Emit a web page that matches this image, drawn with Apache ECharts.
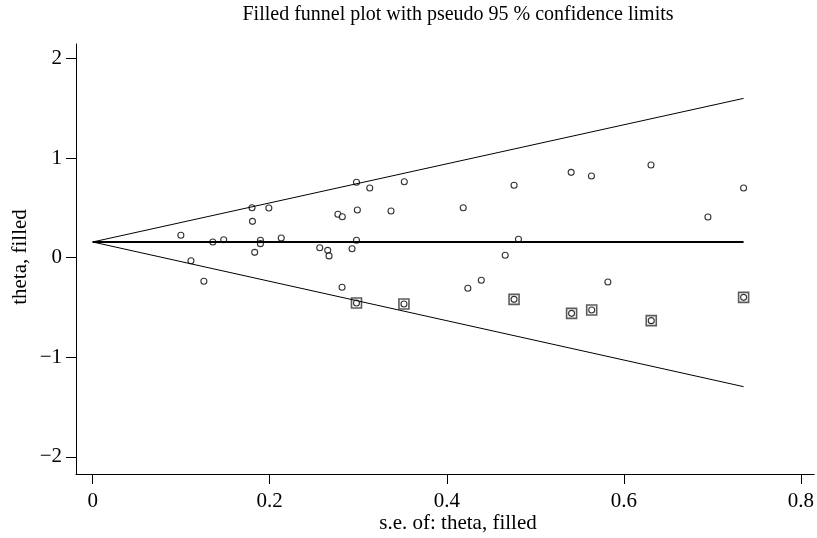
<!DOCTYPE html>
<html>
<head>
<meta charset="utf-8">
<script src="https://cdn.jsdelivr.net/npm/echarts@6/dist/echarts.min.js"></script>
<style>
html,body{margin:0;padding:0;background:#fff;}
#chart{width:817px;height:538px;}
</style>
</head>
<body>
<div id="chart"></div>
<script>
// Observed studies (s.e., theta)
var seObs = [0.0996, 0.111, 0.1256, 0.1357, 0.148, 0.180, 0.1805, 0.183, 0.1895, 0.1895,
  0.199, 0.213, 0.2565, 0.2655, 0.267, 0.277, 0.282, 0.2817, 0.293, 0.298,
  0.299, 0.298, 0.313, 0.337, 0.352, 0.4186, 0.4238, 0.439, 0.466, 0.476,
  0.481, 0.5405, 0.5634, 0.582, 0.6307, 0.695, 0.7353];
var thetaObs = [0.225, -0.030, -0.237, 0.158, 0.181, 0.502, 0.365, 0.054, 0.175, 0.141,
  0.499, 0.198, 0.100, 0.074, 0.018, 0.436, 0.412, -0.297, 0.090, 0.757,
  0.479, 0.175, 0.700, 0.469, 0.763, 0.502, -0.307, -0.227, 0.024, 0.727,
  0.185, 0.857, 0.820, -0.244, 0.931, 0.409, 0.700];
// Filled (imputed) studies
var seFill = [0.298, 0.3516, 0.476, 0.541, 0.5637, 0.631, 0.7353];
var thetaFill = [-0.455, -0.465, -0.418, -0.559, -0.525, -0.632, -0.398];
// Pooled estimate line and pseudo 95% limits (endpoints)
var seLine = [0, 0.7353];
var pooled = [0.158, 0.158];
var upperCI = [0.158, 1.600];
var lowerCI = [0.158, -1.295];
// Tick values
var xTicks = [0, 0.2, 0.4, 0.6, 0.8];
var yTicks = [-2, -1, 0, 1, 2];

function zip(a, b) { return a.map(function (v, i) { return [v, b[i]]; }); }

var allCircles = zip(seObs, thetaObs).concat(zip(seFill, thetaFill));
var serif = '"Liberation Serif","DejaVu Serif",serif';

var chart = echarts.init(document.getElementById('chart'), null, {renderer: 'canvas'});
chart.setOption({
  animation: false,
  backgroundColor: '#fff',
  graphic: [
    {type: 'text', x: 458, y: 15,
      style: {text: 'Filled funnel plot with pseudo 95 % confidence limits', align: 'center', verticalAlign: 'middle',
        fontFamily: serif, fontSize: 20, fill: '#000'}},
    {type: 'text', x: 458, y: 523,
      style: {text: 's.e. of: theta, filled', align: 'center', verticalAlign: 'middle',
        fontFamily: serif, fontSize: 21, fill: '#000'}},
    {type: 'text', x: 20, y: 257, rotation: Math.PI / 2,
      style: {text: 'theta, filled', align: 'center', verticalAlign: 'middle',
        fontFamily: serif, fontSize: 21, fill: '#000'}}
  ],
  grid: {left: 76, right: 2, top: 44, bottom: 64, containLabel: false},
  xAxis: {
    type: 'value', min: -0.01884, max: 0.815,
    axisLine: {show: true, onZero: false, lineStyle: {color: '#000', width: 1}},
    axisTick: {show: true, customValues: xTicks, length: 10, lineStyle: {color: '#000'}},
    axisLabel: {customValues: xTicks, fontFamily: serif, fontSize: 21, color: '#000', margin: 17,
      formatter: function (v) { return String(v); }},
    splitLine: {show: false}
  },
  yAxis: {
    type: 'value', min: -2.172, max: 2.146,
    axisLine: {show: true, onZero: false, lineStyle: {color: '#000', width: 1}},
    axisTick: {show: true, customValues: yTicks, length: 10, lineStyle: {color: '#000'}},
    axisLabel: {customValues: yTicks, fontFamily: serif, fontSize: 21, color: '#000', margin: 14,
      formatter: function (v) { return String(v).replace('-', '\u2212'); }},
    splitLine: {show: false}
  },
  series: [
    {type: 'line', data: zip(seLine, upperCI), symbol: 'none', lineStyle: {color: '#000', width: 1}},
    {type: 'line', data: zip(seLine, lowerCI), symbol: 'none', lineStyle: {color: '#000', width: 1}},
    {type: 'line', data: zip(seLine, pooled), symbol: 'none', lineStyle: {color: '#000', width: 2}},
    {type: 'scatter', data: zip(seFill, thetaFill), symbol: 'rect', symbolSize: 10,
      itemStyle: {color: 'rgba(0,0,0,0)', borderColor: '#333', borderWidth: 1.6}},
    {type: 'scatter', data: allCircles, symbol: 'circle', symbolSize: 6,
      itemStyle: {color: '#fff', borderColor: '#000', borderWidth: 1.1}}
  ]
});
</script>
</body>
</html>
